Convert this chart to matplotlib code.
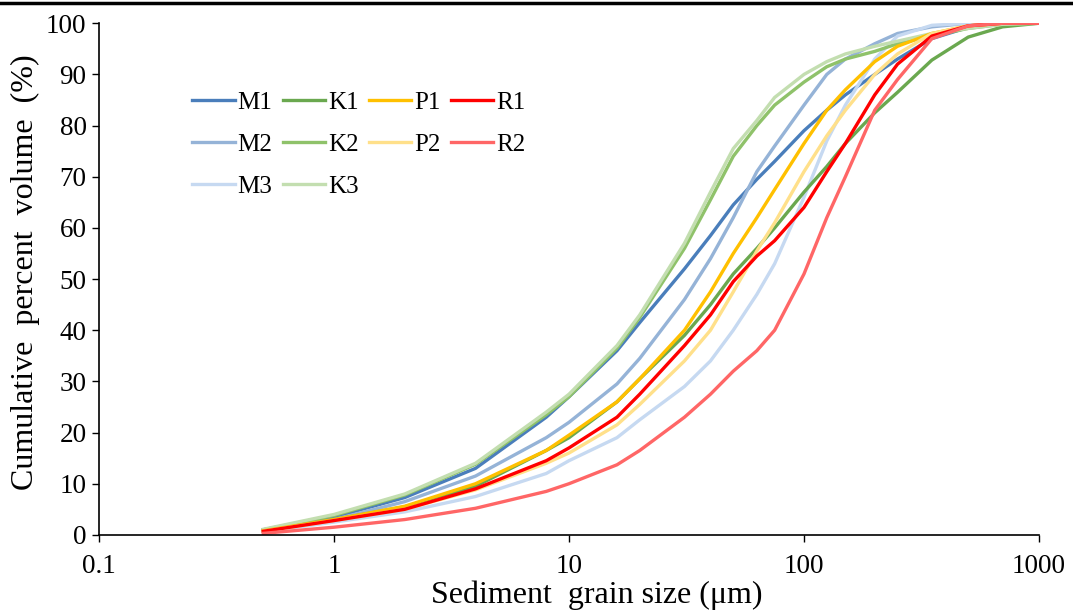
import matplotlib.pyplot as plt
from matplotlib.lines import Line2D

# grain size classes (um)
size = [0.5, 1, 2, 4, 8, 10, 16, 20, 31, 40, 50, 63, 75, 100, 125, 150, 200, 250, 350, 500, 700, 1000]

# cumulative percent volume per sample
M1 = [1.0, 3.5, 7.3, 13.0, 23.0, 27.0, 36.0, 41.5, 52.0, 58.5, 64.5, 69.5, 73.0, 79.0, 83.0, 86.0, 90.0, 93.0, 97.0, 99.2, 100, 100]
M2 = [0.8, 3.0, 6.5, 11.5, 19.0, 22.0, 29.5, 34.5, 46.0, 54.0, 62.0, 71.0, 76.0, 84.0, 90.0, 93.0, 96.0, 98.0, 99.3, 100, 100, 100]
M3 = [0.6, 2.5, 4.5, 7.5, 12.0, 14.5, 19.0, 22.5, 29.0, 34.0, 40.0, 47.0, 53.0, 66.0, 77.0, 84.0, 93.0, 97.5, 99.6, 100, 100, 100]
K1 = [0.8, 3.0, 5.5, 9.5, 16.5, 19.0, 26.0, 30.5, 39.0, 45.0, 51.0, 56.0, 60.0, 67.0, 72.0, 76.5, 82.5, 86.5, 92.8, 97.3, 99.3, 100]
K2 = [1.0, 3.8, 7.8, 13.8, 23.5, 27.0, 36.5, 42.5, 56.0, 65.5, 74.0, 80.0, 84.0, 88.5, 91.5, 93.0, 94.5, 96.0, 97.5, 99.0, 99.8, 100]
K3 = [1.1, 4.0, 8.0, 14.0, 24.0, 27.5, 37.0, 43.0, 57.0, 67.0, 75.5, 81.0, 85.5, 90.0, 92.5, 94.0, 95.5, 96.5, 98.0, 99.0, 99.8, 100]
P1 = [0.8, 3.0, 5.6, 10.0, 16.5, 19.5, 26.0, 30.5, 40.0, 47.5, 55.0, 62.0, 67.5, 76.5, 83.0, 87.0, 92.5, 95.5, 98.0, 99.5, 100, 100]
P2 = [0.7, 2.8, 5.0, 8.8, 14.0, 16.0, 21.5, 25.5, 34.0, 40.0, 47.5, 55.5, 61.0, 71.0, 78.0, 83.0, 90.0, 94.0, 98.0, 99.5, 100, 100]
R1 = [0.7, 2.8, 5.0, 9.0, 14.5, 17.0, 23.0, 27.5, 37.0, 43.0, 49.5, 54.5, 57.5, 64.0, 71.0, 76.5, 86.0, 92.0, 97.5, 99.5, 100, 100]
R2 = [0.3, 1.5, 3.0, 5.2, 8.5, 10.0, 13.7, 16.5, 23.0, 27.5, 32.0, 36.0, 40.0, 51.0, 62.0, 70.0, 83.0, 89.0, 97.0, 99.5, 100, 100]

names = ["M1", "M2", "M3", "K1", "K2", "K3", "P1", "P2", "R1", "R2"]
series = [M1, M2, M3, K1, K2, K3, P1, P2, R1, R2]
colors = ["#4a7ebb", "#95b3d7", "#c6d9f1",
          "#6aa84f", "#8fc26a", "#c3deb0",
          "#ffc000", "#ffe08a",
          "#ff0000", "#ff6666"]

plt.rcParams['font.family'] = ['Liberation Serif', 'DejaVu Serif']

fig = plt.figure(figsize=(10.73, 6.12), dpi=100)
ax = fig.add_axes([0.0923, 0.126, 0.876, 0.836])

for name, vals, c in zip(names, series, colors):
    ax.plot(size, vals, color=c, lw=2.4, label=name)

ax.set_xscale("log")
ax.set_xlim(0.1, 1000)
ax.set_ylim(0, 100)
ax.set_xticks([0.1, 1, 10, 100, 1000])
ax.set_xticklabels(["0.1", "1", "10", "100", "1000"])
ax.set_yticks(range(0, 101, 10))
ax.minorticks_off()
ax.tick_params(labelsize=19.5, direction="out", length=5, width=1, colors="black")
ax.tick_params(axis="x", pad=9)
ax.tick_params(axis="y", pad=4)

for s in ["top", "right"]:
    ax.spines[s].set_visible(False)
for s in ["left", "bottom"]:
    ax.spines[s].set_linewidth(1.2)

ax.set_xlabel("Sediment  grain size (\u03bcm)", fontsize=23, labelpad=1)
ax.set_ylabel("Cumulative  percent  volume  (%)", fontsize=23, labelpad=4)
ax.xaxis.label.set_x(0.529)
ax.yaxis.label.set_y(0.514)

ax.legend(ncol=4, loc="upper left", bbox_to_anchor=(0.086, 0.891), frameon=False,
          fontsize=18, handlelength=1.7, handletextpad=0.1, columnspacing=0.42,
          labelspacing=0.78, borderpad=0)

# thin rule across the top of the figure
fig.add_artist(Line2D([0, 1], [0.995, 0.995], color="black", lw=2.5))

fig.savefig("out.png", dpi=100)
